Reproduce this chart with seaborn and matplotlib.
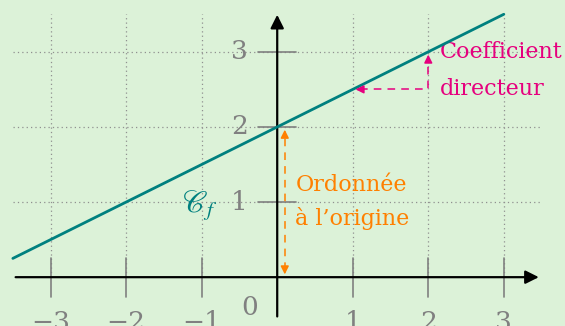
import numpy as np
import matplotlib
matplotlib.use("Agg")
import matplotlib.pyplot as plt
import seaborn as sns

# data
x_line = [-3.5, 3.0]
y_line = [0.25, 3.5]
x_ticks = [-3, -2, -1, 1, 2, 3]
y_ticks = [1, 2, 3]
x_tick_labels = ["\u22123", "\u22122", "\u22121", "1", "2", "3"]
y_tick_labels = ["1", "2", "3"]
intercept_pt = [0.1, 2.0]     # ordonnee a l'origine arrow (x, top)
slope_from = [1.0, 2.5]       # coefficient directeur path
slope_corner = [2.0, 2.5]
slope_to = [2.0, 3.0]

bg = "#dcf2d8"
teal = "#00807f"
orange = "#ff8000"
pink = "#e6007e"
gray = "#808080"

sns.set_style("white", {"axes.facecolor": bg, "figure.facecolor": bg})
plt.rcParams["font.family"] = ["DejaVu Serif"]
plt.rcParams["mathtext.fontset"] = "stix"

fig = plt.figure(figsize=(5.65, 3.26), dpi=100)
ax = fig.add_axes([0, 0, 1, 1])
ax.set_xlim(-3.67, 3.81)
ax.set_ylim(-0.65, 3.69)
for s in ax.spines.values():
    s.set_visible(False)
ax.set_xticks([])
ax.set_yticks([])

# dotted grid
for xv in x_ticks:
    ax.plot([xv, xv], [0, 3.5], ls=(0, (1, 2.5)), color="#909090", lw=0.9, zorder=1)
for yv in y_ticks:
    ax.plot([-3.5, 3.5], [yv, yv], ls=(0, (1, 2.5)), color="#909090", lw=0.9, zorder=1)

# tick marks
for xv in x_ticks:
    ax.plot([xv, xv], [-0.27, 0.25], color=gray, lw=1.2, zorder=2)
for yv in y_ticks:
    ax.plot([-0.25, 0.25], [yv, yv], color=gray, lw=1.2, zorder=2)

# axes with arrows
ax.annotate("", xy=(3.5, 0), xytext=(-3.5, 0),
            arrowprops=dict(arrowstyle="-|>", color="black", lw=1.6, mutation_scale=20), zorder=4)
ax.annotate("", xy=(0, 3.53), xytext=(0, -0.56),
            arrowprops=dict(arrowstyle="-|>", color="black", lw=1.6, mutation_scale=20), zorder=4)

# tick labels
for xv, lab in zip(x_ticks, x_tick_labels):
    ax.text(xv, -0.61, lab, color=gray, fontsize=19, ha="center", va="center")
for yv, lab in zip(y_ticks, y_tick_labels):
    ax.text(-0.5, yv, lab, color=gray, fontsize=19, ha="center", va="center")
ax.text(-0.36, -0.41, "0", color=gray, fontsize=19, ha="center", va="center")

# the line
sns.lineplot(x=x_line, y=y_line, color=teal, lw=2, ax=ax, zorder=5)
ax.text(-1.02, 0.95, r"$\mathscr{C}_f$", color=teal, fontsize=22, ha="center", va="center")

# ordonnee a l'origine
ax.plot([intercept_pt[0]] * 2, [0.1, intercept_pt[1] - 0.1], color=orange, lw=1.1, ls=(0, (5, 4)), zorder=3)
ax.annotate("", xy=(intercept_pt[0], 0.0), xytext=(intercept_pt[0], 0.15),
            arrowprops=dict(arrowstyle="-|>", color=orange, lw=1.1, mutation_scale=12), zorder=3)
ax.annotate("", xy=(intercept_pt[0], intercept_pt[1]), xytext=(intercept_pt[0], intercept_pt[1] - 0.15),
            arrowprops=dict(arrowstyle="-|>", color=orange, lw=1.1, mutation_scale=12), zorder=3)
ax.text(0.24, 1.23, "Ordonnée", color=orange, fontsize=16, ha="left", va="center")
ax.text(0.24, 0.78, "à l\u2019origine", color=orange, fontsize=16, ha="left", va="center")

# coefficient directeur
ax.plot([slope_from[0] + 0.1, slope_corner[0], slope_to[0]],
        [slope_from[1], slope_corner[1], slope_to[1] - 0.1],
        color=pink, lw=1.1, ls=(0, (5, 4)), zorder=3)
ax.annotate("", xy=tuple(slope_from), xytext=(slope_from[0] + 0.15, slope_from[1]),
            arrowprops=dict(arrowstyle="-|>", color=pink, lw=1.1, mutation_scale=12), zorder=6)
ax.annotate("", xy=tuple(slope_to), xytext=(slope_to[0], slope_to[1] - 0.15),
            arrowprops=dict(arrowstyle="-|>", color=pink, lw=1.1, mutation_scale=12), zorder=6)
ax.text(2.15, 3.0, "Coefficient", color=pink, fontsize=16, ha="left", va="center")
ax.text(2.15, 2.5, "directeur", color=pink, fontsize=16, ha="left", va="center")

fig.savefig("out.png", dpi=100, facecolor=bg)
